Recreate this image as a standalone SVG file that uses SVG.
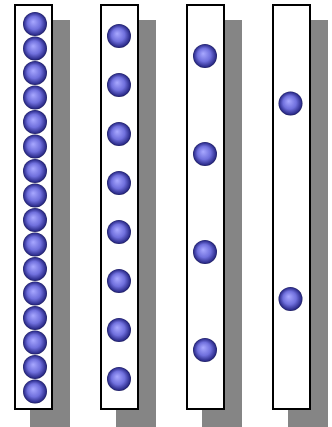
<svg xmlns="http://www.w3.org/2000/svg" width="332" height="427" viewBox="0 0 332 427">
<defs>
<radialGradient id="ball" cx="0.5" cy="0.5" r="0.5" fx="0.42" fy="0.4">
<stop offset="0" stop-color="#a8a8ff"/>
<stop offset="0.55" stop-color="#7070dd"/>
<stop offset="0.9" stop-color="#303090"/>
<stop offset="1" stop-color="#1c1c60"/>
</radialGradient>
<circle id="b" r="12" fill="url(#ball)"/>
</defs>
<style>
.shadow{fill:#858585}
.tube{fill:#fff;stroke:#000;stroke-width:2}
</style>
<rect width="332" height="427" fill="#fff"/>
<g id="col1">
<rect class="shadow" x="30" y="20" width="40" height="407"/>
<rect class="tube" x="15" y="5" width="37" height="404"/>
<use href="#b" x="35" y="24"/><use href="#b" x="35" y="48.5"/><use href="#b" x="35" y="73"/><use href="#b" x="35" y="97.5"/>
<use href="#b" x="35" y="122"/><use href="#b" x="35" y="146.5"/><use href="#b" x="35" y="171"/><use href="#b" x="35" y="195.5"/>
<use href="#b" x="35" y="220"/><use href="#b" x="35" y="244.5"/><use href="#b" x="35" y="269"/><use href="#b" x="35" y="293.5"/>
<use href="#b" x="35" y="318"/><use href="#b" x="35" y="342.5"/><use href="#b" x="35" y="367"/><use href="#b" x="35" y="391.5"/>
</g>
<g id="col2">
<rect class="shadow" x="116" y="20" width="40" height="407"/>
<rect class="tube" x="101" y="5" width="37" height="404"/>
<use href="#b" x="119" y="36"/><use href="#b" x="119" y="85"/><use href="#b" x="119" y="134"/><use href="#b" x="119" y="183"/>
<use href="#b" x="119" y="232"/><use href="#b" x="119" y="281"/><use href="#b" x="119" y="330"/><use href="#b" x="119" y="379"/>
</g>
<g id="col3">
<rect class="shadow" x="202" y="20" width="40" height="407"/>
<rect class="tube" x="187" y="5" width="37" height="404"/>
<use href="#b" x="205" y="56"/><use href="#b" x="205" y="154"/><use href="#b" x="205" y="252"/><use href="#b" x="205" y="350"/>
</g>
<g id="col4">
<rect class="shadow" x="288" y="20" width="40" height="407"/>
<rect class="tube" x="273" y="5" width="37" height="404"/>
<use href="#b" x="290.5" y="103.5"/><use href="#b" x="290.5" y="299"/>
</g>
<g id="connectors"/>
</svg>
